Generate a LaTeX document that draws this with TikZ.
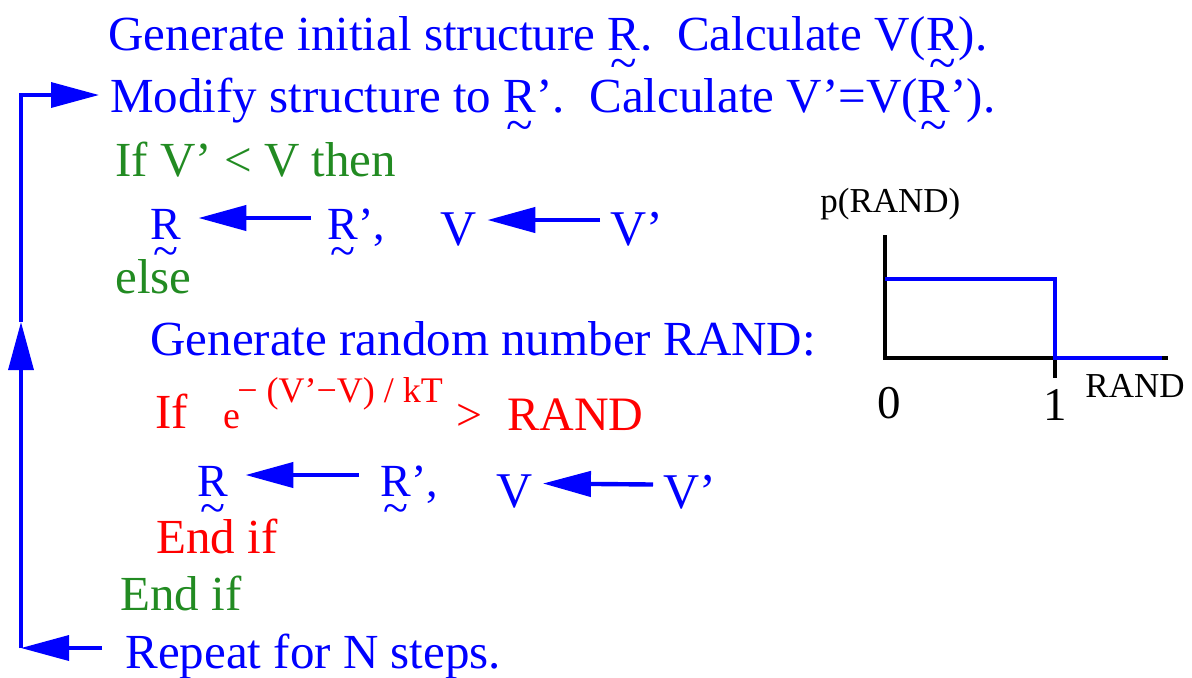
\documentclass[tikz,border=0pt]{standalone}
\usepackage{fontspec}
\setmainfont{Liberation Serif}
\usetikzlibrary{arrows.meta}

\definecolor{stepblue}{RGB}{0,0,255}
\definecolor{stepgreen}{RGB}{34,139,34}
\definecolor{stepred}{RGB}{255,0,0}

% R mit Tilde darunter
\newcommand{\uR}{\leavevmode\setbox0\hbox{R}\rlap{\makebox[\wd0]{\smash{\raisebox{-0.6em}{\textasciitilde}}}}R}
\newcommand{\fs}[1]{\fontsize{#1}{#1}\selectfont}

\tikzset{
  algline/.style={anchor=base west, inner sep=0pt, font=\fs{24.5pt}},
  rsym/.style={anchor=base west, inner sep=0pt, text=stepblue, font=\fs{23pt}},
  vsym/.style={anchor=base west, inner sep=0pt, text=stepblue, font=\fs{25pt}},
  assign/.style={->, stepblue, line width=2.2pt},
  loopline/.style={stepblue, line width=1.75pt},
  axisline/.style={black, line width=2.25pt},
  pline/.style={stepblue, line width=2pt},
  plabel/.style={inner sep=0pt, font=\fs{17.5pt}}
}

\begin{document}
\begin{tikzpicture}[x=0.5pt, y=-0.5pt, >={Triangle[length=24pt, width=12.5pt]}]
    % 1. Bildgroesse
    \useasboundingbox (0,0) rectangle (1192,677);

    % 2. Zeilen des Algorithmus
    \node[algline, stepblue] (init) at (108,50) {Generate initial structure \uR.\ \ Calculate V(\uR).};
    \node[algline, stepblue] (modify) at (110,112) {Modify structure to \uR’.\ \ Calculate V’=V(\uR’).};
    \node[algline, stepgreen] (ifthen) at (115,176) {If V’ < V then};
    \node[rsym] (rnew) at (150,239) {\uR};
    \node[rsym] (rold) at (327,239) {\uR’,};
    \node[vsym] (vnew) at (440,245) {V};
    \node[vsym] (vold) at (610,245) {V’};
    \node[algline, stepgreen] (else) at (115,293) {else};
    \node[algline, stepblue] (rand) at (150,355) {Generate random number RAND:};
    \node[algline, stepred, font=\fs{24.5pt}] (ifexp) at (155,428) {If};
    \node[algline, stepred, font=\fs{19pt}] (expbase) at (223,428) {e};
    \node[algline, stepred, font=\fs{18pt}] (exppow) at (237,402) {− (V’−V) / kT};
    \node[algline, stepred, font=\fs{23pt}] (gt) at (456,430) {>};
    \node[algline, stepred, font=\fs{24pt}] (randred) at (507,430) {RAND};
    \node[rsym] (rnew2) at (197,496) {\uR};
    \node[rsym] (rold2) at (380,496) {\uR’,};
    \node[vsym] (vnew2) at (496,507) {V};
    \node[vsym] (vold2) at (663,508) {V’};
    \node[algline, stepred] (endin) at (156,553) {End if};
    \node[algline, stepgreen] (endout) at (120,610) {End if};
    \node[algline, stepblue] (repeat) at (125,668) {Repeat for N steps.};

    % 3. Zuweisungspfeile
    \draw[assign] ([shift={(-16,-21)}]rold.base west) -- ([shift={(17,-21)}]rnew.base east);
    \draw[assign] ([shift={(-10,-25)}]vold.base west) -- ([shift={(10.5,-25)}]vnew.base east);
    \draw[assign] ([shift={(-21,-21)}]rold2.base west) -- ([shift={(17,-21)}]rnew2.base east);
    \draw[assign] ([shift={(-10,-23.5)}]vold2.base west) -- ([shift={(10,-23.5)}]vnew2.base east);

    % 4. Schleife
    \coordinate (loopbot) at (21,648);
    \coordinate (loopmid) at (21,322);
    \coordinate (looptop) at (21,95);
    \draw[loopline, ->] ([shift={(-23,-20)}]repeat.base west) -- (loopbot);
    \draw[loopline, ->] (loopbot) -- (loopmid);
    \draw[loopline, ->] (loopmid) -- (looptop) -- ([shift={(-11,-17)}]modify.base west);

    % 5. Verteilung p(RAND)
    \draw[axisline] (885,235) -- (885,358) -- (1168,358);
    \draw[axisline] (1055,358) -- (1055,378);
    \draw[pline] (885,279) -- (1055,279) -- (1055,358) -- (1162,358);
    \node[plabel, anchor=base west] (plab) at (820,212) {p(RAND)};
    \node[plabel, anchor=base, font=\fs{23.5pt}] (zero) at (889,418) {0};
    \node[plabel, anchor=base, font=\fs{23.5pt}] (one) at (1055,420) {1};
    \node[plabel, anchor=base west] (xlab) at (1085,397) {RAND};
\end{tikzpicture}
\end{document}
